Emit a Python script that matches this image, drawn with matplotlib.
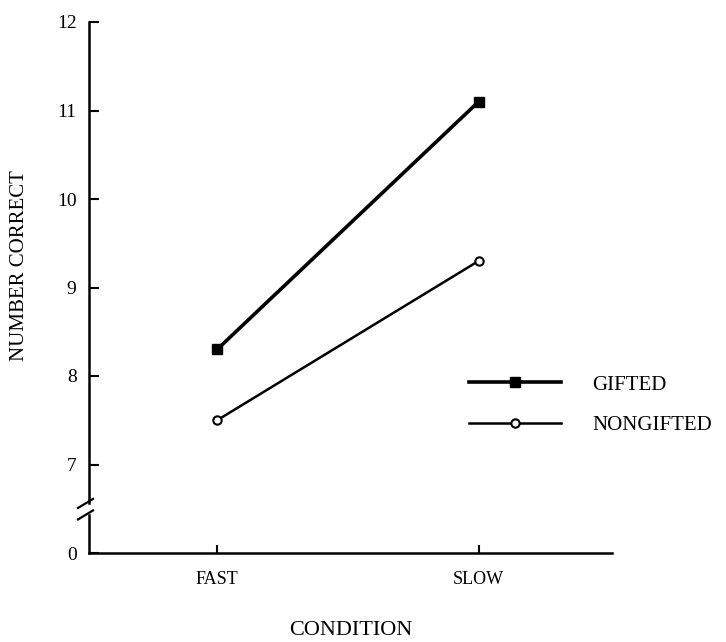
import matplotlib.pyplot as plt
import matplotlib.transforms as mtransforms

# values
conditions = ['FAST', 'SLOW']
gifted = [8.3, 11.1]
nongifted = [7.5, 9.3]
# the axis is broken: position 6 stands for 0
ytick_pos = [6, 7, 8, 9, 10, 11, 12]
ytick_labels = ['0', '7', '8', '9', '10', '11', '12']

plt.rcParams['font.family'] = ['Liberation Serif', 'DejaVu Serif']

fig = plt.figure(figsize=(7.26, 6.42), dpi=100)
ax = fig.add_axes([89/726, 89/642, 523/726, 531/642])

x = [1, 2]
ax.plot(x, gifted, '-s', color='black', lw=2.6, ms=7, label='GIFTED')
ax.plot(x, nongifted, '-o', color='black', lw=1.8, ms=6, mfc='white', mew=1.5, label='NONGIFTED')

ax.set_xlim(0.51, 2.51)
ax.set_ylim(6, 12)

for s in ['top', 'right', 'left']:
	ax.spines[s].set_visible(False)
ax.spines['bottom'].set_linewidth(1.8)

ax.set_xticks(x, conditions)
ax.tick_params(axis='x', direction='in', length=6, width=1.5, labelsize=13, pad=13)
ax.set_yticks(ytick_pos, ytick_labels)
ax.tick_params(axis='y', direction='in', length=7, width=1.5, labelsize=14, pad=9)

# left axis with a break between 0 and 7
tr = mtransforms.blended_transform_factory(ax.transAxes, ax.transData)
ax.plot([0, 0], [6.56, 12], color='black', lw=1.8, transform=tr, clip_on=False)
ax.plot([0, 0], [6, 6.43], color='black', lw=1.8, transform=tr, clip_on=False)
dx = 1/523
dy = 1/88.5
for yc in [6.56, 6.43]:
	ax.plot([-11*dx, 4*dx], [yc - 4.5*dy, yc + 4.5*dy], color='black', lw=1.6, transform=tr, clip_on=False)

ax.set_xlabel('CONDITION', fontsize=16)
ax.xaxis.set_label_coords(0.5, -0.128)
ax.set_ylabel('NUMBER CORRECT', fontsize=15, va='center')
ax.yaxis.set_label_coords(-0.132, 0.542)

ax.legend(loc='upper left', bbox_to_anchor=(469/726, 1 - 375/642), bbox_transform=fig.transFigure,
	frameon=False, handlelength=4.4, handletextpad=1.5, labelspacing=1.0,
	borderpad=0, borderaxespad=0, fontsize=15)

fig.savefig('out.png', dpi=100)
